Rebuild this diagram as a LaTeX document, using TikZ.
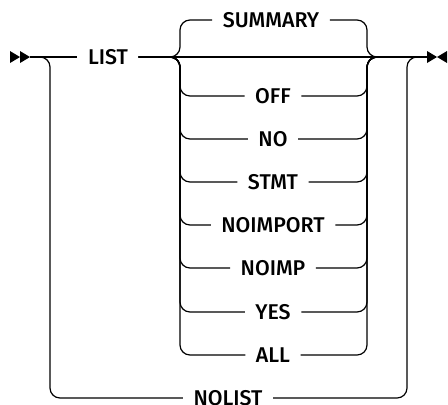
\documentclass[tikz,border=0pt]{standalone}
\usepackage{fontspec}
\setmainfont{Fira Sans}[UprightFont={* Medium}]
\begin{document}
\begin{tikzpicture}[x=0.75pt,y=-0.75pt,line width=0.9pt,
  rc/.style={rounded corners=7.5pt},
  kw/.style={inner xsep=7.5pt, inner ysep=2pt, font=\fontsize{16}{19}\selectfont}]
\useasboundingbox (0,0) rectangle (448,404);
\coordinate (startpt) at (30,57);
\coordinate (endpt) at (427,57);
% start and end marks
\fill (10,51) -- (20,57) -- (10,63) -- cycle;
\fill (20,51) -- (30,57) -- (20,63) -- cycle;
\fill (427,51) -- (437,57) -- (427,63) -- cycle;
\fill (447,51) -- (437,57) -- (447,63) -- cycle;
% keywords
\node[kw] (list) at (108,57) {LIST};
\node[kw] (summary) at (271,20) {SUMMARY};
\node[kw] (nolist) at (228,398) {NOLIST};
\foreach \n/\t/\y in {off/OFF/96, no/NO/139, stmt/STMT/182, noimport/NOIMPORT/225,
                      noimp/NOIMP/268, yes/YES/312, all/ALL/355}{
  \node[kw] (\n) at (273,\y) {\t};
  \draw[rc] (list.east) -| (180,\y) -- (\n.west);
  \draw[rc] (\n.east) -| (367,57) -- (endpt);
}
% main line
\draw (startpt) -- (list.west);
\draw (list.east) -- (endpt);
% default above
\draw[rc] (list.east) -| (180,20) -- (summary.west);
\draw[rc] (summary.east) -| (367,57) -- (endpt);
% bypass
\draw[rc] (startpt) -| (50,398) -- (nolist.west);
\draw[rc] (nolist.east) -| (407,57) -- (endpt);
\end{tikzpicture}
\end{document}
